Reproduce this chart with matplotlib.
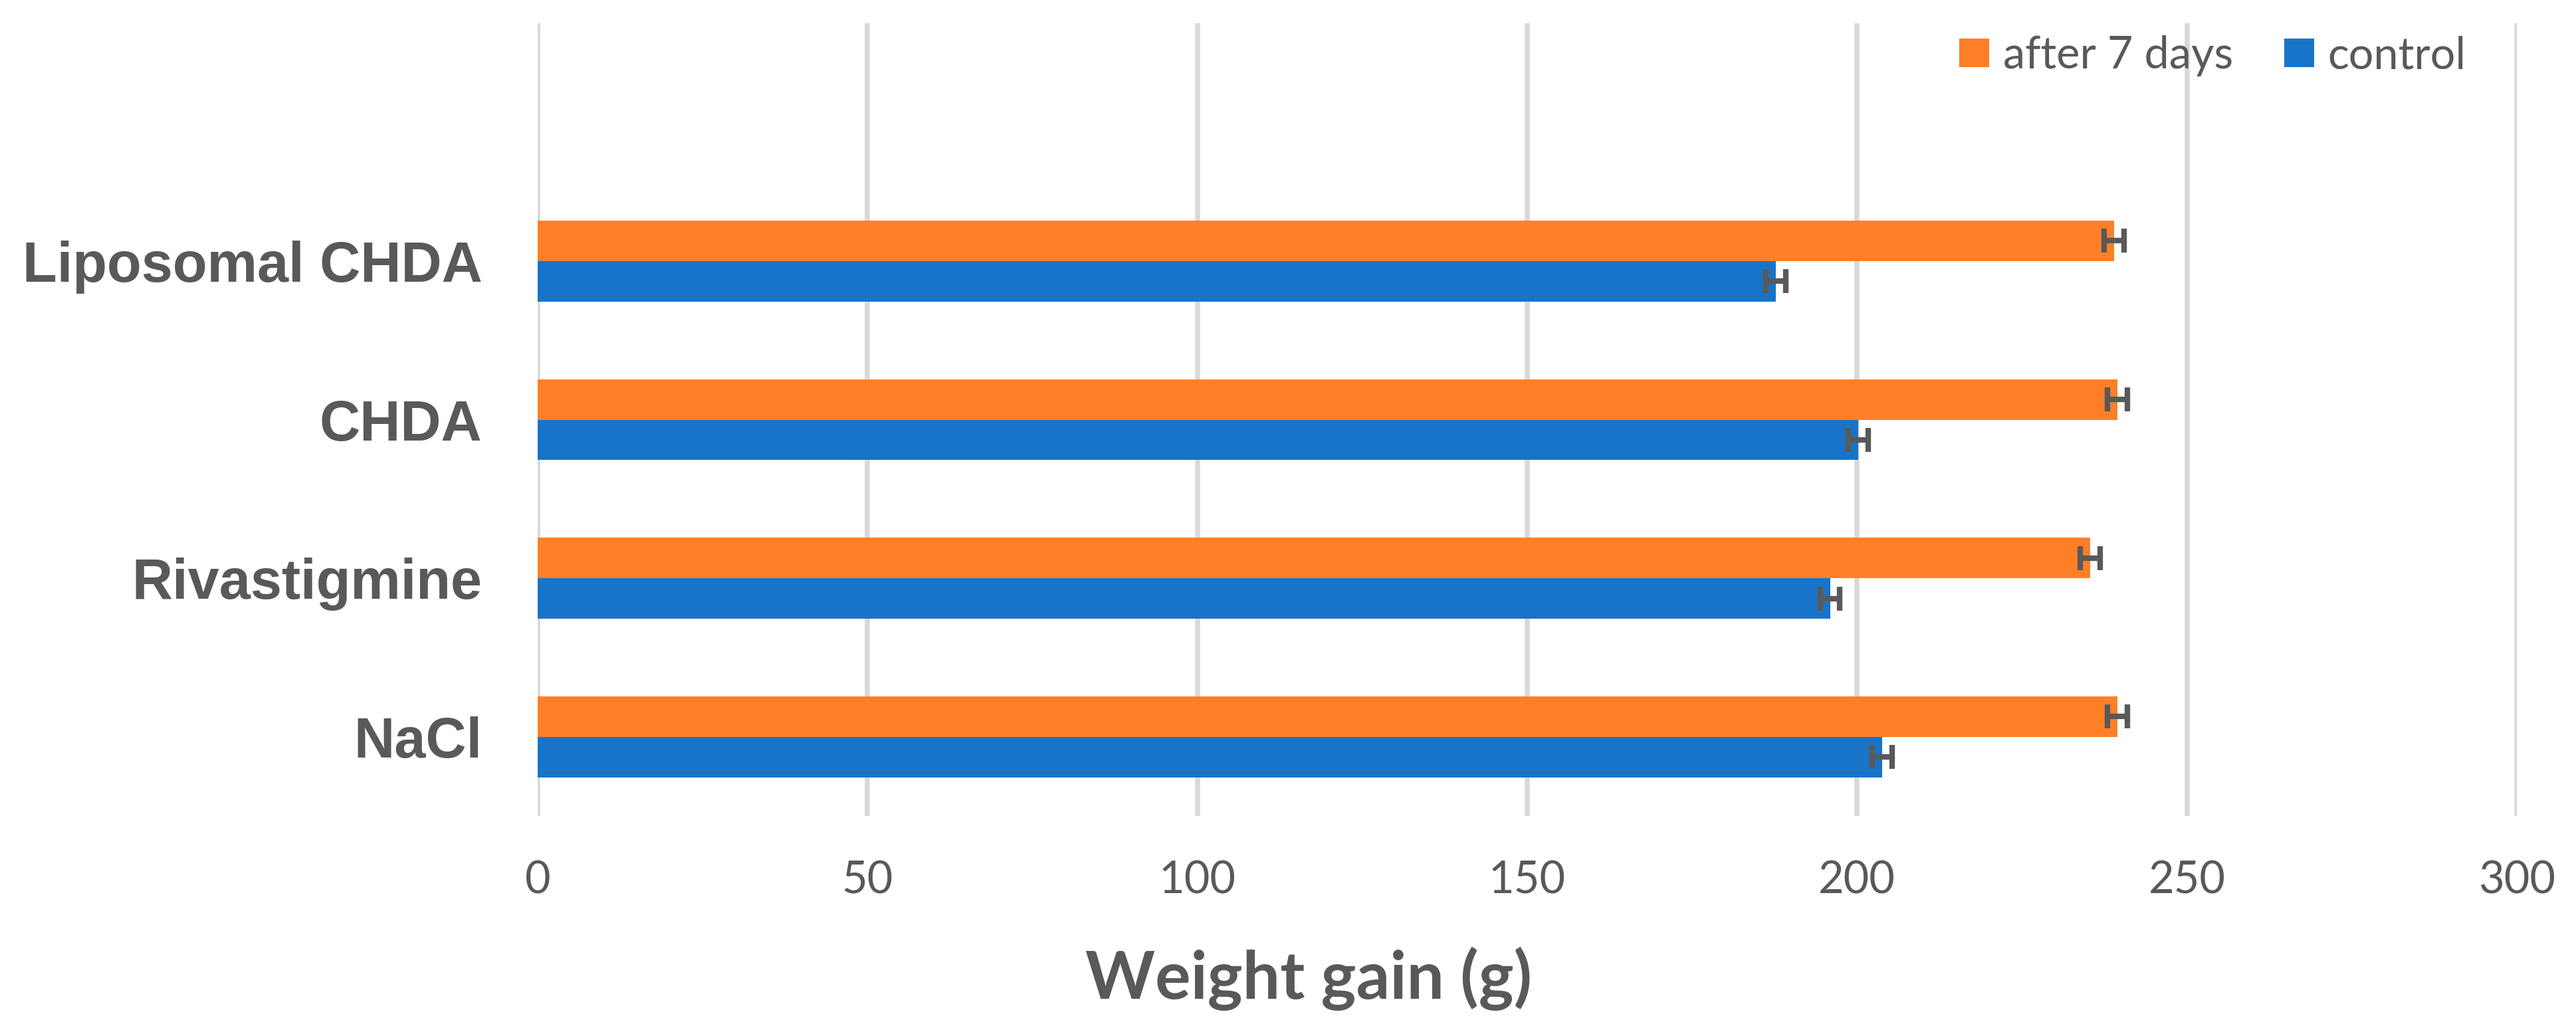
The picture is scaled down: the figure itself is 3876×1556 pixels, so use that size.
import numpy as np
import matplotlib
matplotlib.use("Agg")
import matplotlib.pyplot as plt

# data
groups = ["NaCl", "Rivastigmine", "CHDA", "Liposomal CHDA"]
after_7_days = [239.5, 235.3, 239.5, 239.0]
control = [203.8, 195.9, 200.2, 187.7]
err_after = [1.5, 1.5, 1.5, 1.5]
err_control = [1.5, 1.5, 1.5, 1.5]
xticks = [0, 50, 100, 150, 200, 250, 300]

orange = "#FF7F27"
blue = "#1874C9"
grey = "#595959"

fig = plt.figure(figsize=(38.76, 15.56), dpi=100)
ax = fig.add_axes([0.2087, 0.2108, 0.9770 - 0.2087, 0.9775 - 0.2108])

y = np.arange(len(groups))
h = 0.255

ax.barh(y + h / 2, after_7_days, height=h, color=orange, label="after 7 days", zorder=2)
ax.barh(y - h / 2, control, height=h, color=blue, label="control", zorder=2)
ax.errorbar(after_7_days, y + h / 2, xerr=err_after, fmt="none", ecolor=grey,
            elinewidth=6, capsize=13, capthick=6, zorder=3)
ax.errorbar(control, y - h / 2, xerr=err_control, fmt="none", ecolor=grey,
            elinewidth=6, capsize=13, capthick=6, zorder=3)

ax.set_xlim(0, 300)
ax.set_ylim(-0.5, 4.5)
ax.set_xticks(xticks)
ax.set_xticklabels([str(t) for t in xticks], family="Lato", fontsize=48, color=grey)
ax.set_yticks(y)
ax.set_yticklabels(groups, family="Liberation Sans", fontweight="bold", fontsize=61, color=grey)
ax.tick_params(axis="x", length=0, pad=48)
ax.tick_params(axis="y", length=0, pad=60)

ax.grid(axis="x", color="#d9d9d9", linewidth=5.5, zorder=0)
ax.set_axisbelow(True)
for s in ax.spines.values():
    s.set_visible(False)

fig.text(0.508, 1 - 1503 / 1556, "Weight gain (g)", family="Lato", fontweight="bold",
         fontsize=72, color=grey, ha="center", va="baseline")

leg = ax.legend(loc="center", bbox_to_anchor=(0.859, 0.946), bbox_transform=fig.transFigure,
                ncol=2, frameon=False, prop={"family": "Lato", "size": 48},
                handlelength=0.675, handleheight=0.63, handletextpad=0.31,
                columnspacing=1.15, borderpad=0)
for t in leg.get_texts():
    t.set_color(grey)

fig.savefig("out.png", dpi=100, facecolor="white")
